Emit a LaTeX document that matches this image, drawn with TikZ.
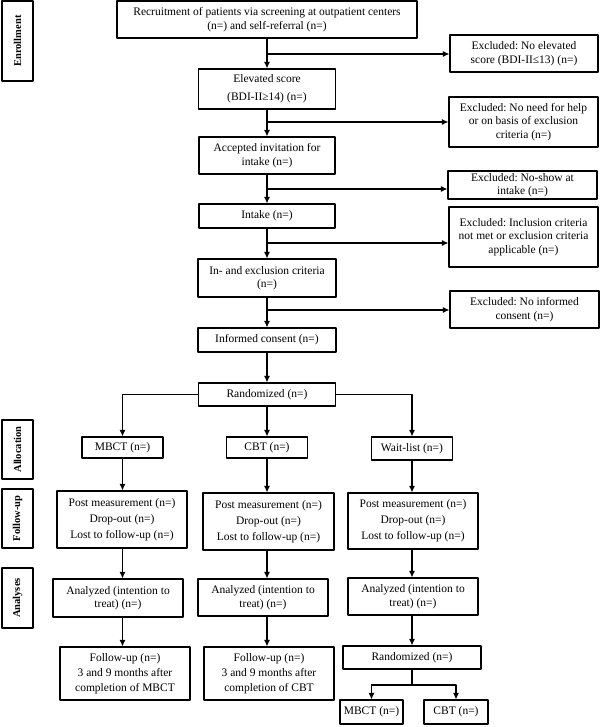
\documentclass[tikz,border=0pt]{standalone}
\usepackage{fontspec}
\setmainfont{Liberation Serif}
\usetikzlibrary{shapes,arrows,arrows.meta}
\frenchspacing

\begin{document}
\begin{tikzpicture}
    [line cap=round,line join=round,x=1pt,y=-1pt,
     box/.style={draw,line width=1.1pt,align=center,inner sep=1pt,font=\fontsize{11.5}{13.5}\selectfont},
     sz/.style 2 args={minimum width=#1,minimum height=#2},
     phase/.style={draw,line width=1.1pt,rotate=90,minimum height=31,inner sep=1pt,font=\bfseries\fontsize{10.5}{12}\selectfont},
     flow/.style={-{Latex[length=6.5pt,width=6pt]},line width=1.1pt}]
\useasboundingbox (0,0) rectangle (600,727);
%phase labels on the left
\node[phase,minimum width=80] (enroll) at (17.5,41) {Enrollment};
\node[phase,minimum width=59] (alloc) at (17.5,449.5) {Allocation};
\node[phase,minimum width=59] (follow) at (17.5,518.5) {Follow-up};
\node[phase,minimum width=60] (analyses) at (17.5,598) {Analyses};

%main column
\node[box,sz={300}{37}] (recruit) at (267,19.5) {Recruitment of patients via screening at outpatient centers\\(n=) and self-referral (n=)};
\node[box,sz={137}{40},font=\fontsize{11.5}{18}\selectfont] (elevated) at (267,89) {Elevated score\\(BDI-II≥14) (n=)};
\node[box,sz={136}{37}] (accepted) at (267,155.5) {Accepted invitation for\\intake (n=)};
\node[box,sz={136}{24}] (intake) at (267,216) {Intake (n=)};
\node[box,sz={138}{38}] (criteria) at (267,278) {In- and exclusion criteria\\(n=)};
\node[box,sz={138}{24}] (consent) at (267,340) {Informed consent (n=)};
\node[box,sz={137}{23}] (random) at (267,394.5) {Randomized (n=)};

%excluded boxes
\node[box,sz={148}{37}] (exscore) at (524,53.5) {Excluded: No elevated\\score (BDI-II≤13) (n=)};
\node[box,sz={149}{50}] (exhelp) at (523.5,122) {Excluded: No need for help\\or on basis of exclusion\\criteria (n=)};
\node[box,sz={149}{28}] (exshow) at (522.5,185) {Excluded: No-show at\\intake (n=)};
\node[box,sz={149}{60}] (excrit) at (523.5,237) {Excluded: Inclusion criteria\\not met or exclusion criteria\\applicable (n=)};
\node[box,sz={149}{37}] (exconsent) at (524.5,309.5) {Excluded: No informed\\consent (n=)};

%branch points on the trunk
\coordinate (b1) at (267,54);
\coordinate (b2) at (267,122);
\coordinate (b3) at (267,189);
\coordinate (b4) at (267,243);
\coordinate (b5) at (267,310);

\draw[flow] (recruit) -- (elevated);
\draw[flow] (elevated) -- (accepted);
\draw[flow] (accepted) -- (intake);
\draw[flow] (intake) -- (criteria);
\draw[flow] (criteria) -- (consent);
\draw[flow] (consent) -- (random);

\draw[flow] (b1) -- (b1 -| exscore.west);
\draw[flow] (b2) -- (b2 -| exhelp.west);
\draw[flow] (b3) -- (b3 -| exshow.west);
\draw[flow] (b4) -- (b4 -| excrit.west);
\draw[flow] (b5) -- (b5 -| exconsent.west);

%allocation
\node[box,sz={81}{21}] (mbct) at (122.5,447.5) {MBCT (n=)};
\node[box,sz={81}{21}] (cbt) at (267,447.5) {CBT (n=)};
\node[box,sz={81}{23}] (wait) at (412,448.5) {Wait-list (n=)};

\draw[flow] (random.west) -| (mbct.north);
\draw[flow] (random) -- (cbt);
\draw[flow] (random.east) -| (wait.north);

%follow-up
\node[box,sz={130}{57},font=\fontsize{11.5}{16}\selectfont] (postm) at (122,519.5) {Post measurement (n=)\\Drop-out (n=)\\Lost to follow-up (n=)};
\node[box,sz={131}{57},font=\fontsize{11.5}{16}\selectfont] (postc) at (268.5,521.5) {Post measurement (n=)\\Drop-out (n=)\\Lost to follow-up (n=)};
\node[box,sz={130}{56},font=\fontsize{11.5}{16}\selectfont] (postw) at (413,521) {Post measurement (n=)\\Drop-out (n=)\\Lost to follow-up (n=)};

\draw[flow] (mbct.south) -- (mbct.south |- postm.north);
\draw[flow] (cbt.south) -- (cbt.south |- postc.north);
\draw[flow] (wait.south) -- (wait.south |- postw.north);

%analyses
\node[box,sz={130}{38}] (anam) at (118,598) {Analyzed (intention to\\treat) (n=)};
\node[box,sz={130}{37}] (anac) at (263,597.5) {Analyzed (intention to\\treat) (n=)};
\node[box,sz={130}{37}] (anaw) at (413,596.5) {Analyzed (intention to\\treat) (n=)};

\draw[flow] (mbct.south |- postm.south) -- (mbct.south |- anam.north);
\draw[flow] (cbt.south |- postc.south) -- (cbt.south |- anac.north);
\draw[flow] (wait.south |- postw.south) -- (wait.south |- anaw.north);

%long term follow-up
\node[box,sz={130}{53},font=\fontsize{11.5}{15}\selectfont] (fum) at (125,673.5) {Follow-up (n=)\\3 and 9 months after\\completion of MBCT};
\node[box,sz={130}{53},font=\fontsize{11.5}{15}\selectfont] (fuc) at (269,673.5) {Follow-up (n=)\\3 and 9 months after\\completion of CBT};
\node[box,sz={138}{23}] (random2) at (412,657.5) {Randomized (n=)};

\draw[flow] (mbct.south |- anam.south) -- (mbct.south |- fum.north);
\draw[flow] (cbt.south |- anac.south) -- (cbt.south |- fuc.north);
\draw[flow] (wait.south |- anaw.south) -- (wait.south |- random2.north);

%second randomization of the wait-list
\node[box,sz={63}{24}] (mbct2) at (371.5,712) {MBCT (n=)};
\node[box,sz={64}{24}] (cbt2) at (456,712) {CBT (n=)};
\coordinate (fork) at (412,685);

\draw[line width=1.1pt] (random2) -- (fork);
\draw[flow] (fork) -| (mbct2.north);
\draw[flow] (fork) -| (cbt2.north);
\end{tikzpicture}
\end{document}
